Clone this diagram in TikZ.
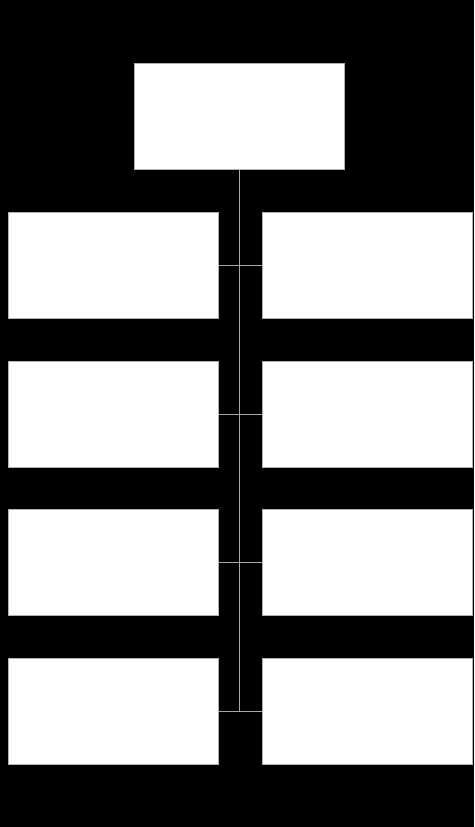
\documentclass[tikz,border=0pt]{standalone}
\usepackage{tikz}
\usetikzlibrary{positioning}
\tikzset{
  card/.style={draw=gray!60, line width=0.6pt, fill=white, minimum width=210pt, minimum height=106pt, inner sep=0pt},
  link/.style={draw=gray!70, line width=0.8pt}
}

\begin{document}
\begin{tikzpicture}[x=1pt, y=1pt]
                        \fill[black] (0, 0) rectangle (474, 827);
                        \useasboundingbox (0, 0) rectangle (474, 827);

                        \node[card] (top) at (239.5, 710.5) {};
                        \foreach \i/\y in {1/562, 2/413, 3/264.5, 4/116} {
                            \node[card] (left\i) at (113.5, \y) {};
                            \node[card] (right\i) at (367, \y) {};
                        }

                        \coordinate (spineend) at (top.south |- left4.east);
                        \draw[link] (top.south) -- (spineend);
                        \foreach \i in {1, 2, 3, 4} {
                            \draw[link] (left\i.east) -- (right\i.west);
                        }
                    \end{tikzpicture}
\end{document}
